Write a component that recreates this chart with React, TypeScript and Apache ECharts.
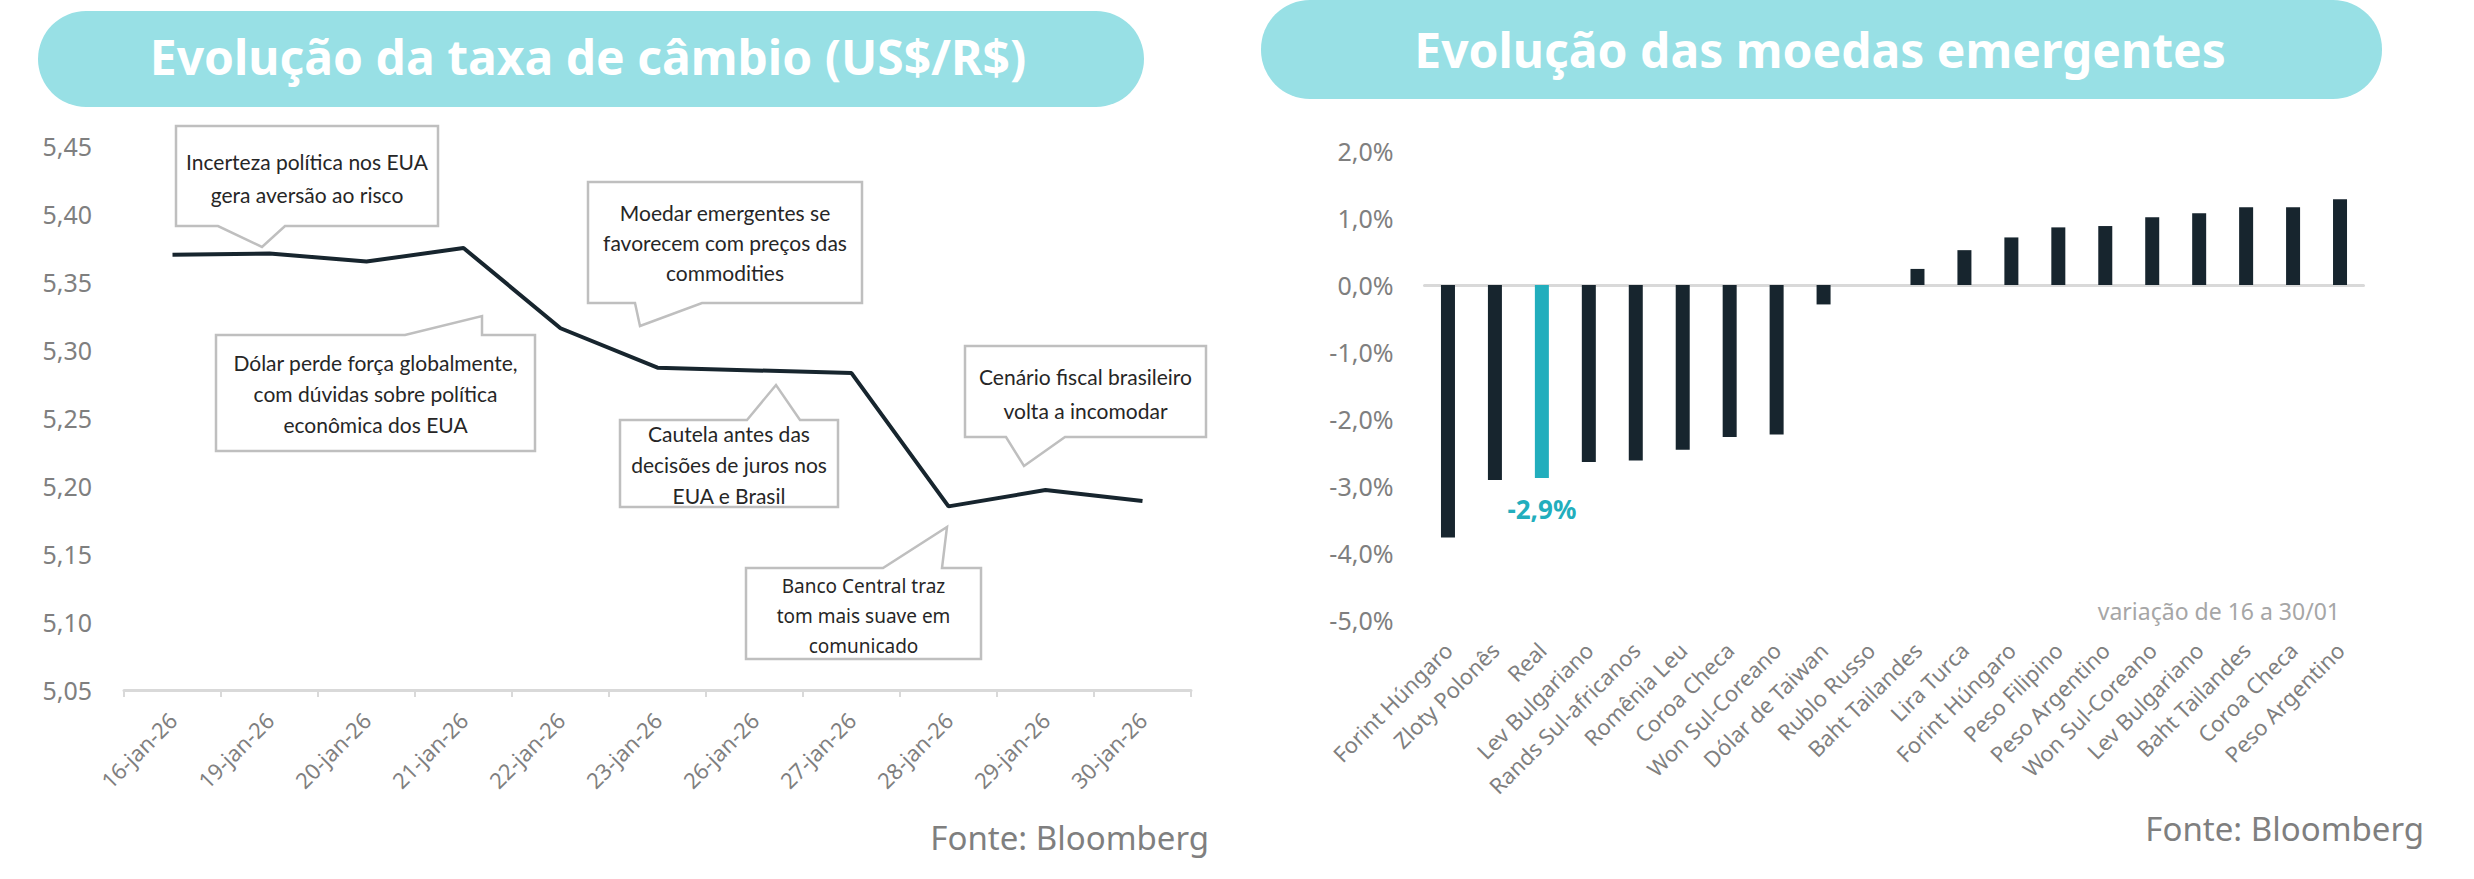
import React, { useEffect, useRef } from "react";
import * as echarts from "echarts";

// ---- Left chart: USD/BRL exchange rate ----
const fxDates = [
  "16-jan-26", "19-jan-26", "20-jan-26", "21-jan-26", "22-jan-26", "23-jan-26",
  "26-jan-26", "27-jan-26", "28-jan-26", "29-jan-26", "30-jan-26",
];
const fxValues = [5.37, 5.371, 5.365, 5.375, 5.316, 5.287, 5.285, 5.283, 5.185, 5.197, 5.189];
const fxMin = 5.05;
const fxMax = 5.45;
const fxInterval = 0.05;

// ---- Right chart: emerging currencies ----
const currencies = [
  "Forint Húngaro", "Zloty Polonês", "Real", "Lev Bulgariano", "Rands Sul-africanos",
  "Romênia Leu", "Coroa Checa", "Won Sul-Coreano", "Dólar de Taiwan", "Rublo Russo",
  "Baht Tailandes", "Lira Turca", "Forint Húngaro", "Peso Filipino", "Peso Argentino",
  "Won Sul-Coreano", "Lev Bulgariano", "Baht Tailandes", "Coroa Checa", "Peso Argentino",
];
const currencyChanges = [
  -3.77, -2.91, -2.88, -2.64, -2.62, -2.46, -2.27, -2.23, -0.29, 0,
  0.24, 0.52, 0.71, 0.86, 0.88, 1.01, 1.07, 1.16, 1.16, 1.28,
];
const highlightIndex = 2; // Real
const pctMin = -5;
const pctMax = 2;
const pctInterval = 1;

const DARK = "#17252e";
const TEAL = "#22aebd";
const PILL = "#98e0e5";
const GREY = "#7f7f7f";
const AXIS = "#d9d9d9";
const BORDER = "#bfbfbf";

type Callout = {
  box: [number, number, number, number];
  tail: number[][];
  side: "top" | "bottom";
  text: string;
  cy: number;
  lh: number;
  font: string;
  size: number;
};

const callouts: Callout[] = [
  {
    box: [176, 126, 438, 226], side: "bottom",
    tail: [[285, 226], [262, 247], [218, 226]],
    text: "Incerteza política nos EUA\ngera aversão ao risco", cy: 178, lh: 33,
    font: "Lato", size: 21,
  },
  {
    box: [216, 335, 535, 451], side: "top",
    tail: [[405, 335], [482, 316], [482, 335]],
    text: "Dólar perde força globalmente,\ncom dúvidas sobre política\neconômica dos EUA", cy: 393, lh: 31,
    font: "Lato", size: 21,
  },
  {
    box: [588, 182, 862, 303], side: "bottom",
    tail: [[702, 303], [640, 326], [635, 303]],
    text: "Moedar emergentes se\nfavorecem com preços das\ncommodities", cy: 242, lh: 30,
    font: "Lato", size: 21,
  },
  {
    box: [620, 420, 838, 507], side: "top",
    tail: [[747, 420], [776, 385], [800, 420]],
    text: "Cautela antes das\ndecisões de juros nos\nEUA e Brasil", cy: 464, lh: 31,
    font: "Lato", size: 21,
  },
  {
    box: [965, 346, 1206, 437], side: "bottom",
    tail: [[1065, 437], [1024, 466], [1006, 437]],
    text: "Cenário fiscal brasileiro\nvolta a incomodar", cy: 393, lh: 34,
    font: "Lato", size: 21,
  },
  {
    box: [746, 568, 981, 659], side: "top",
    tail: [[883, 568], [947, 527], [942, 568]],
    text: "Banco Central traz\ntom mais suave em\ncomunicado", cy: 616, lh: 30,
    font: "Noto Sans", size: 19,
  },
];

function calloutPoints(c: Callout): number[][] {
  const [x1, y1, x2, y2] = c.box;
  if (c.side === "top") {
    return [[x1, y1], ...c.tail, [x2, y1], [x2, y2], [x1, y2]];
  }
  return [[x1, y1], [x2, y1], [x2, y2], ...c.tail, [x1, y2]];
}

export default function App() {
  const ref = useRef<HTMLDivElement>(null);

  useEffect(() => {
    if (!ref.current) return;
    const chart = echarts.init(ref.current, undefined, { renderer: "svg" });

    const graphics: any[] = [
      {
        type: "rect", shape: { x: 38, y: 11, width: 1106, height: 96, r: 48 },
        style: { fill: PILL }, z: 1,
      },
      {
        type: "text", x: 588, y: 56,
        style: {
          text: "Evolução da taxa de câmbio (US$/R$)", fill: "#fff",
          font: "bold 48px 'Noto Sans'", textAlign: "center", textVerticalAlign: "middle",
        }, z: 2,
      },
      {
        type: "rect", shape: { x: 1261, y: 0, width: 1121, height: 99, r: 49 },
        style: { fill: PILL }, z: 1,
      },
      {
        type: "text", x: 1820, y: 49,
        style: {
          text: "Evolução das moedas emergentes", fill: "#fff",
          font: "bold 48px 'Noto Sans'", textAlign: "center", textVerticalAlign: "middle",
        }, z: 2,
      },
      {
        type: "text", x: 1209, y: 837,
        style: {
          text: "Fonte: Bloomberg", fill: GREY, font: "33px 'Noto Sans'",
          textAlign: "right", textVerticalAlign: "middle",
        },
      },
      {
        type: "text", x: 2424, y: 828,
        style: {
          text: "Fonte: Bloomberg", fill: GREY, font: "33px 'Noto Sans'",
          textAlign: "right", textVerticalAlign: "middle",
        },
      },
      {
        type: "text", x: 2340, y: 611,
        style: {
          text: "variação de 16 a 30/01", fill: "#a6a6a6", font: "23px 'Noto Sans'",
          textAlign: "right", textVerticalAlign: "middle",
        },
      },
    ];

    callouts.forEach((c) => {
      graphics.push({
        type: "polygon",
        shape: { points: calloutPoints(c) },
        style: { fill: "#fff", stroke: BORDER, lineWidth: 2.5 },
        z: 10,
      });
      graphics.push({
        type: "text",
        x: (c.box[0] + c.box[2]) / 2,
        y: c.cy,
        style: {
          text: c.text, fill: "#262626", font: `${c.size}px '${c.font}'`,
          lineHeight: c.lh, textAlign: "center", textVerticalAlign: "middle",
        },
        z: 11,
      });
    });

    const option: any = {
      animation: false,
      backgroundColor: "#fff",
      textStyle: { fontFamily: "Noto Sans" },
      grid: [
        { left: 124, top: 146, width: 1067, height: 544 },
        { left: 1424.5, top: 151, width: 939, height: 469 },
      ],
      xAxis: [
        {
          type: "category", gridIndex: 0, data: fxDates, boundaryGap: true,
          axisLine: { show: true, lineStyle: { color: AXIS, width: 3 } },
          axisTick: { show: true, length: 7, lineStyle: { color: AXIS, width: 2 } },
          axisLabel: { rotate: 45, color: GREY, fontSize: 22, margin: 26, fontFamily: "Noto Sans" },
        },
        {
          type: "category", gridIndex: 1, data: currencies, position: "bottom",
          axisLine: { show: false, onZero: false },
          axisTick: { show: false },
          axisLabel: { rotate: 45, color: GREY, fontSize: 22, margin: 26, interval: 0, fontFamily: "Noto Sans" },
        },
        {
          type: "category", gridIndex: 1, data: currencies,
          axisLine: { show: true, onZero: true, lineStyle: { color: AXIS, width: 3 } },
          axisTick: { show: false },
          axisLabel: { show: false },
        },
      ],
      yAxis: [
        {
          type: "value", gridIndex: 0, min: fxMin, max: fxMax, interval: fxInterval,
          splitLine: { show: false },
          axisLine: { show: false }, axisTick: { show: false },
          axisLabel: {
            color: GREY, fontSize: 25, margin: 32, fontFamily: "Noto Sans",
            formatter: (v: number) => v.toFixed(2).replace(".", ","),
          },
        },
        {
          type: "value", gridIndex: 1, min: pctMin, max: pctMax, interval: pctInterval,
          splitLine: { show: false },
          axisLine: { show: false }, axisTick: { show: false },
          axisLabel: {
            color: GREY, fontSize: 25, margin: 31, fontFamily: "Noto Sans",
            formatter: (v: number) => v.toFixed(1).replace(".", ",") + "%",
          },
        },
      ],
      series: [
        {
          type: "line", xAxisIndex: 0, yAxisIndex: 0, data: fxValues,
          symbol: "none", lineStyle: { color: DARK, width: 4 }, z: 5,
        },
        {
          type: "bar", xAxisIndex: 1, yAxisIndex: 1, barWidth: 14,
          data: currencyChanges.map((v, i) =>
            i === highlightIndex
              ? {
                  value: v,
                  itemStyle: { color: TEAL },
                  label: {
                    show: true, position: "bottom", distance: 18,
                    color: TEAL, fontWeight: "bold", fontSize: 26, fontFamily: "Noto Sans",
                    formatter: (p: any) => p.value.toFixed(1).replace(".", ",") + "%",
                  },
                }
              : { value: v, itemStyle: { color: DARK } }
          ),
        },
      ],
      graphic: graphics,
    };

    chart.setOption(option);
    return () => chart.dispose();
  }, []);

  return (
    <div
      ref={ref}
      style={{ position: "absolute", left: 0, top: 0, width: 2474, height: 879 }}
    />
  );
}
